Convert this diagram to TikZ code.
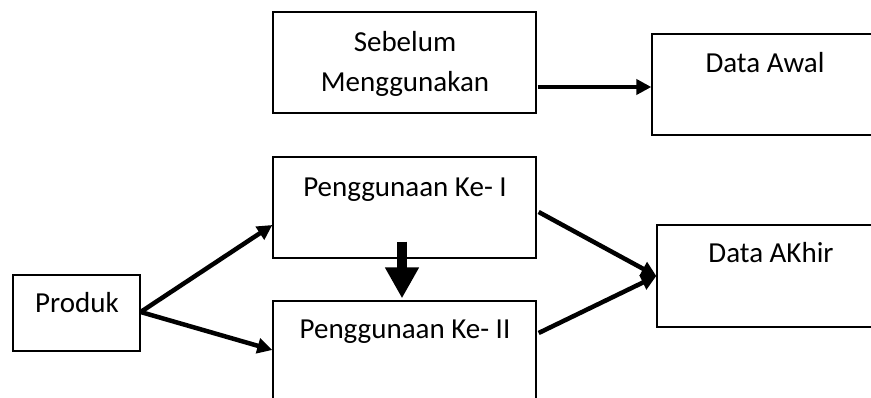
\documentclass[tikz,border=0pt]{standalone}
\usepackage{fontspec}
\setmainfont{Carlito}
\usetikzlibrary{arrows.meta,calc}
\begin{document}
\begin{tikzpicture}[x=1pt,y=-1pt,
  box/.style={draw=black,line width=1.3pt,rectangle,inner sep=0pt},
  txt/.style={inner sep=0pt,font=\fontsize{29}{40}\selectfont,align=center},
  conn/.style={line width=4.5pt,-{Triangle[length=15pt,width=15pt]}},
  bigconn/.style={line width=10pt,-{Triangle[length=31pt,width=32pt]}}]
\useasboundingbox (0,0) rectangle (871,398);
\clip (0,0) rectangle (871,398);
% boxes
\node[box,minimum width=263pt,minimum height=101pt] (sb) at (404.5,62.5) {};
\node[box,minimum width=260pt,minimum height=101pt] (da) at (782,84.5) {};
\node[box,minimum width=127pt,minimum height=76pt] (pr) at (76.5,313) {};
\node[box,minimum width=263pt,minimum height=101pt] (k1) at (404.5,207.5) {};
\node[box,minimum width=263pt,minimum height=120pt] (k2) at (404.5,361) {};
\node[box,minimum width=255pt,minimum height=102pt] (dk) at (784.5,276) {};
% texts
\node[txt,anchor=base] (tsb1) at (405,52) {Sebelum};
\node[txt,anchor=base] (tsb2) at (405,92) {Menggunakan};
\node[txt,anchor=base] (tda) at (765,73) {Data Awal};
\node[txt,anchor=base] (tpr) at (77,313) {Produk};
\node[txt,anchor=base] (tk1) at (405,197) {Penggunaan Ke- I};
\node[txt,anchor=base] (tk2) at (405,339) {Penggunaan Ke- II};
\node[txt,anchor=base] (tdk) at (771,263) {Data AKhir};
% connectors
\draw[conn] ($(sb.east)+(1,24.5)$) -- ($(da.west)+(0,2.5)$);
\draw[conn] ($(pr.east)+(0,-1)$) -- ($(k1.west)+(0,17.5)$);
\draw[conn] ($(pr.east)+(0,-1)$) -- ($(k2.west)+(0,-11)$);
\draw[conn] ($(k1.east)+(2,4.5)$) -- (dk.west);
\draw[conn] ($(k2.east)+(2,-28)$) -- (dk.west);
\draw[bigconn] ($(k1.south)+(-2.5,-17)$) -- ($(k2.north)+(-2.5,-2)$);
\end{tikzpicture}
\end{document}
